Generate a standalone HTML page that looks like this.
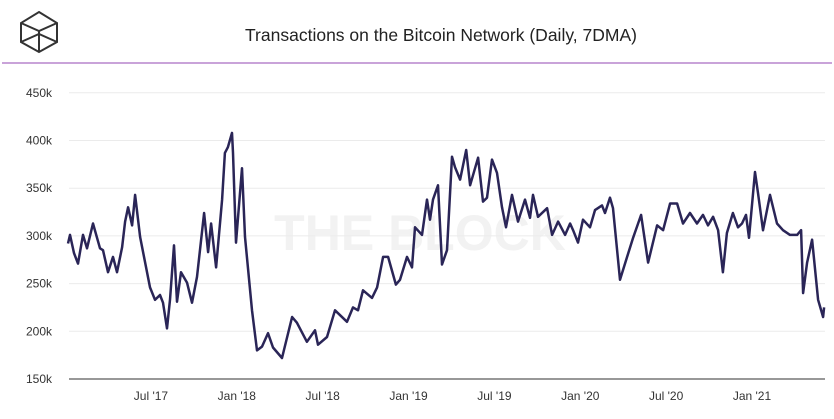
<!DOCTYPE html>
<html><head><meta charset="utf-8"><style>
body{margin:0;width:834px;height:414px;background:#fff;overflow:hidden;font-family:"Liberation Sans",sans-serif;}
</style></head><body>
<svg id="chart" width="834" height="414" viewBox="0 0 834 414">
<g fill="none" stroke="#333" stroke-width="2">
<polygon points="39,12 57,23 57,42 39,52 21,42 21,23"/>
<polyline points="21,23 39,31 57,23"/><line x1="39" y1="31" x2="39" y2="52"/>
<polyline points="21,42 39,34 57,42"/>
</g>
<text x="441" y="41" text-anchor="middle" font-size="17.5" fill="#222">Transactions on the Bitcoin Network (Daily, 7DMA)</text>
<rect x="2" y="62" width="830" height="2" fill="#c9a3d9"/>
<text x="420" y="250" text-anchor="middle" font-size="50" font-weight="bold" fill="#f2f2f2">THE BLOCK</text>
<g id="grid"></g><g id="yl"></g><g id="xl"></g>
<line x1="69" y1="379" x2="825" y2="379" stroke="#777" stroke-width="1.5"/>
<path id="line" fill="none" stroke="#2a2557" stroke-width="2.5" stroke-linejoin="round"/>
</svg>
<script>
const months=[0.2,0.34,0.62,0.90,1.25,1.53,1.95,2.44,2.65,3.0,3.35,3.63,3.98,4.19,4.4,4.68,4.89,5.24,5.93,6.28,6.63,6.84,7.12,7.33,7.61,7.82,8.1,8.52,8.87,9.22,9.71,9.99,10.2,10.55,10.97,11.17,11.38,11.66,11.73,11.94,12.36,12.57,13.06,13.41,13.76,14.18,14.53,15.16,15.86,16.2,16.9,17.46,17.67,18.3,18.86,19.7,20.12,20.47,20.82,21.45,21.8,22.22,22.57,23.12,23.4,23.89,24.24,24.45,24.94,25.29,25.5,25.71,26.06,26.34,26.69,27.04,27.25,27.6,28.03,28.3,28.86,29.2,29.48,29.83,30.18,30.53,30.81,31.23,31.65,32.14,32.49,32.7,33.05,33.68,34.03,34.45,34.94,35.29,35.5,35.84,36.19,36.68,37.03,37.52,37.73,38.08,38.29,38.78,39.27,39.69,40.25,40.74,41.37,41.79,42.28,42.77,43.18,43.67,44.16,44.58,44.93,45.28,45.63,45.97,46.25,46.67,47.02,47.3,47.58,47.79,48.21,48.42,48.77,49.26,49.75,50.17,50.66,51.15,51.43,51.57,51.85,52.2,52.62,52.97,53.04];
const txK=[292,301,282,271,301,287,313,287,285,262,278,262,288,315,330,311,343,299,246,233,238,230,203,233,290,231,262,251,230,257,324,283,313,267,338,387,393,408,387,293,371,299,222,180,184,198,183,172,215,209,189,201,186,194,222,210,225,222,243,235,246,278,278,249,254,278,267,309,301,338,317,338,353,270,285,383,372,359,390,353,382,336,340,380,366,330,309,343,315,338,319,343,320,329,301,315,301,313,306,293,317,309,327,332,324,340,329,254,278,298,322,272,311,306,334,334,313,324,313,322,311,320,306,262,303,324,309,313,322,298,367,345,306,343,313,306,301,301,306,240,272,296,233,215,225];
const yTicks=[150,200,250,300,350,400,450];
const yTickLabels=["150k","200k","250k","300k","350k","400k","450k"];
const xTicks=[6,12,18,24,30,36,42,48];
const xTickLabels=["Jul '17","Jan '18","Jul '18","Jan '19","Jul '19","Jan '20","Jul '20","Jan '21"];
const X=m=>65.1+m*14.31;
const Y=v=>379-(v-150)*0.954;
const NS="http://www.w3.org/2000/svg";
const grid=document.getElementById('grid'),yl=document.getElementById('yl'),xl=document.getElementById('xl');
yTicks.forEach((v,i)=>{
 if(v>150){const l=document.createElementNS(NS,'line');
 
 
 l.setAttribute('x1',69);l.setAttribute('x2',825);l.setAttribute('y1',Y(v));l.setAttribute('y2',Y(v));
 l.setAttribute('stroke','#ebebeb');l.setAttribute('stroke-width','1');grid.appendChild(l);}
 const t=document.createElementNS(NS,'text');
 
 
 t.setAttribute('x',52);t.setAttribute('y',Y(v)+4);t.setAttribute('text-anchor','end');
 t.setAttribute('font-size','12');t.setAttribute('fill','#333');t.textContent=yTickLabels[i];yl.appendChild(t);
});
xTicks.forEach((m,i)=>{
 const t=document.createElementNS(NS,'text');
 
 
 t.setAttribute('x',X(m));t.setAttribute('y',400);t.setAttribute('text-anchor','middle');
 t.setAttribute('font-size','12');t.setAttribute('fill','#333');t.textContent=xTickLabels[i];xl.appendChild(t);
});
document.getElementById('line').setAttribute('d',months.map((m,i)=>(i?'L':'M')+X(m).toFixed(1)+','+Y(txK[i]).toFixed(1)).join(''));
</script>
</body></html>
